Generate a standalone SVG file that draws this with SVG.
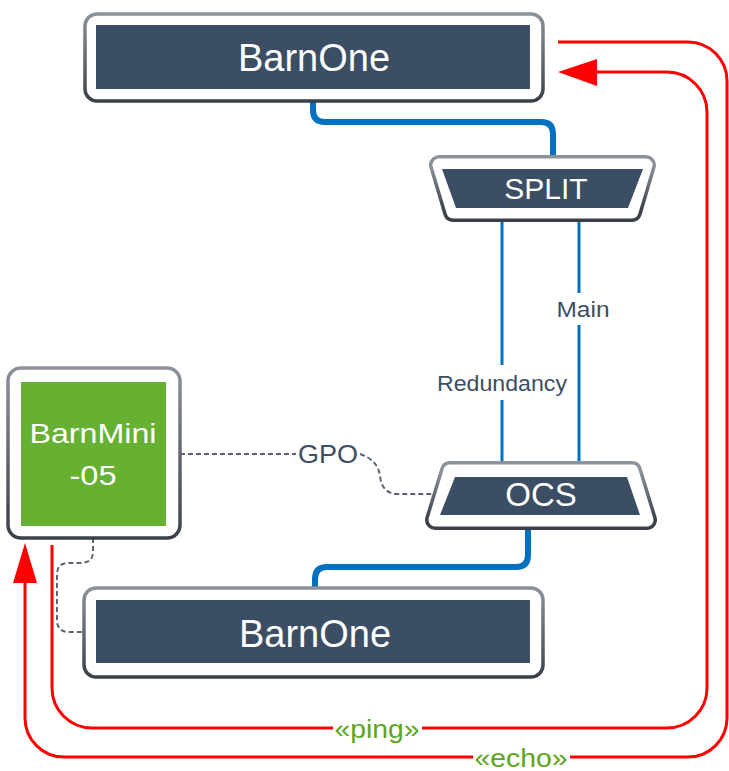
<svg xmlns="http://www.w3.org/2000/svg" width="729" height="771" viewBox="0 0 729 771">
<style>
.frame{fill:#fff;stroke:url(#fg);stroke-width:3.5}
.dark{fill:#3c4e63}
.ntext{font-family:"Liberation Sans",Arial,sans-serif;fill:#fff;text-anchor:middle}
.lbl{font-family:"Liberation Sans",Arial,sans-serif;fill:#3c4e63;text-anchor:middle;font-size:22px}
.green{font-family:"Liberation Sans",Arial,sans-serif;fill:#5ea51c;text-anchor:middle;font-size:25px}
.blue{fill:none;stroke:#0070c0;stroke-width:6}
.bthin{fill:none;stroke:#0070c0;stroke-width:3}
.dash{fill:none;stroke:#5a6472;stroke-width:2;stroke-dasharray:5 3}
.red{fill:none;stroke:#ff0000;stroke-width:3}
.arrow{fill:#ff0000}
</style>
<defs>
<linearGradient id="fg" x1="0" y1="0" x2="0" y2="1">
<stop offset="0" stop-color="#8c9299"/>
<stop offset="1" stop-color="#3a4048"/>
</linearGradient>
<filter id="soft" filterUnits="userSpaceOnUse" x="0" y="0" width="729" height="771">
<feGaussianBlur stdDeviation="0.7"/>
</filter>
</defs>

<g id="connectors">
<path class="blue" d="M313,100 V110 Q313,122 325,122 H541 Q553,122 553,134 V160"/>
<path class="blue" d="M528,525 V555 Q528,567 516,567 H327 Q315,567 315,579 V590"/>
<path class="bthin" d="M502,218 V365 M502,400 V465"/>
<path class="bthin" d="M579,218 V293 M579,325 V465"/>
<path class="dash" d="M180,454 H296 M360,454 Q378,460 380,476 Q382,494 398,494 H433"/>
<path class="dash" d="M93,538 V552 Q93,563 80,563 H68 Q57,563 57,575 V620 Q57,632 69,632 H85"/>
<path class="red" d="M558,42 H688 A39,39 0 0 1 727,81 V718 A39,39 0 0 1 688,757 H64 A39,39 0 0 1 25,718 V580"/>
<polygon class="arrow" points="25,543 13,583 37,583"/>
<path class="red" d="M52,545 V688 A40,40 0 0 0 92,728 H667 A40,40 0 0 0 707,688 V112 A40,40 0 0 0 667,72 H594"/>
<polygon class="arrow" points="558,72 597,59 597,86"/>
<text class="lbl" x="583" y="317" textLength="53" lengthAdjust="spacingAndGlyphs">Main</text>
<text class="lbl" x="502" y="391" textLength="130" lengthAdjust="spacingAndGlyphs">Redundancy</text>
<text class="lbl" x="328" y="463" style="font-size:26px" textLength="60" lengthAdjust="spacingAndGlyphs">GPO</text>
<rect x="333" y="716" width="89" height="28" fill="#fff"/>
<text class="green" x="377" y="738" textLength="85" lengthAdjust="spacingAndGlyphs">«ping»</text>
<rect x="473" y="745" width="97" height="26" fill="#fff"/>
<text class="green" x="521" y="767" textLength="93" lengthAdjust="spacingAndGlyphs">«echo»</text>
</g>

<g id="barnone-top">
<rect class="frame" x="85" y="14" width="458" height="87" rx="12" filter="url(#soft)"/>
<rect class="dark" x="96" y="25" width="434" height="64"/>
<text class="ntext" x="314" y="71" font-size="38">BarnOne</text>
</g>

<g id="split">
<polygon points="439,165 646,165 632,212 453,212" fill="none" stroke="url(#fg)" stroke-width="20" stroke-linejoin="round" filter="url(#soft)"/>
<polygon points="439,165 646,165 632,212 453,212" fill="#fff" stroke="#fff" stroke-width="13" stroke-linejoin="round"/>
<polygon class="dark" points="442,169 643,169 628,208 456,208"/>
<text class="ntext" x="546" y="199" font-size="30">SPLIT</text>
</g>

<g id="ocs">
<polygon points="450,471 632,471 647,520 435,520" fill="none" stroke="url(#fg)" stroke-width="20" stroke-linejoin="round" filter="url(#soft)"/>
<polygon points="450,471 632,471 647,520 435,520" fill="#fff" stroke="#fff" stroke-width="13" stroke-linejoin="round"/>
<polygon class="dark" points="455,477 627,477 640,515 440,515"/>
<text class="ntext" x="541" y="506" font-size="33">OCS</text>
</g>

<g id="barnmini">
<rect class="frame" x="8" y="368" width="172" height="170" rx="13" filter="url(#soft)"/>
<rect x="21" y="382" width="145" height="144" fill="#66b132"/>
<text class="ntext" x="93" y="443" font-size="28" textLength="127" lengthAdjust="spacingAndGlyphs">BarnMini</text>
<text class="ntext" x="93" y="485" font-size="28" textLength="47" lengthAdjust="spacingAndGlyphs">-05</text>
</g>

<g id="barnone-bottom">
<rect class="frame" x="84" y="588" width="459" height="89" rx="12" filter="url(#soft)"/>
<rect class="dark" x="96" y="600" width="434" height="63"/>
<text class="ntext" x="315" y="647" font-size="38">BarnOne</text>
</g>
</svg>
